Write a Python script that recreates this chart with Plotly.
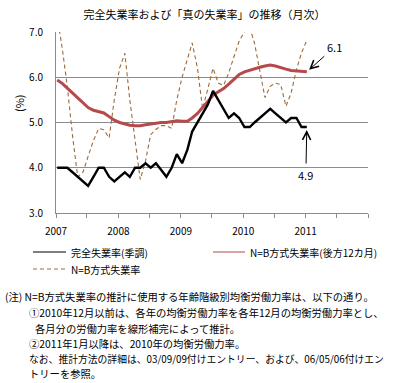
import pandas as pd
import plotly.graph_objects as go

# ---- data (monthly, Jan 2007 .. Jan 2011) ----
start_month = "2007-01-01"
n_months = 49
months = pd.date_range(start_month, periods=n_months, freq="MS") + pd.Timedelta(days=7)

unemp_sa = [4.0, 4.0, 4.0, 3.9, 3.8, 3.7, 3.6, 3.8, 4.0, 4.0, 3.8, 3.7,
            3.8, 3.9, 3.8, 4.0, 4.0, 4.1, 4.0, 4.1, 3.95, 3.8, 4.0, 4.3,
            4.1, 4.4, 4.8, 5.0, 5.2, 5.4, 5.7, 5.5, 5.3, 5.1, 5.2, 5.1,
            4.9, 4.9, 5.0, 5.1, 5.2, 5.3, 5.2, 5.1, 5.0, 5.1, 5.1, 4.9,
            4.9]

nb_12m = [5.94, 5.86, 5.76, 5.65, 5.53, 5.42, 5.33, 5.27, 5.24, 5.21, 5.13, 5.05,
          5.00, 4.96, 4.94, 4.93, 4.93, 4.95, 4.97, 4.99, 5.00, 5.00, 5.02, 5.04,
          5.03, 5.03, 5.10, 5.20, 5.33, 5.47, 5.60, 5.68, 5.75, 5.85, 5.95, 6.06,
          6.12, 6.16, 6.19, 6.22, 6.25, 6.27, 6.25, 6.21, 6.18, 6.15, 6.14, 6.13,
          6.12]

nb_raw = [7.35, 6.6, 5.8, 4.7, 3.8, 3.9, 4.25, 4.6, 4.87, 4.84, 4.66, 5.5,
          6.2, 6.53, 5.5, 4.6, 3.74, 4.15, 4.73, 4.85, 4.93, 4.93, 4.87, 5.5,
          6.0, 6.4, 6.76, 6.2, 5.3, 5.75, 6.2, 5.87, 5.82, 6.1, 6.45, 6.8,
          7.0, 7.1, 6.75, 6.15, 5.55, 5.8, 5.87, 5.84, 5.36, 5.65, 6.17, 6.54,
          6.82]

tick_dates = ["2007-01-01", "2007-07-01", "2008-01-01", "2008-07-01", "2009-01-01",
              "2009-07-01", "2010-01-01", "2010-07-01", "2011-01-01", "2011-07-01",
              "2012-01-01"]
tick_text = ["2007", "", "2008", "", "2009", "", "2010", "", "2011", "", ""]
y_ticks = [3.0, 4.0, 5.0, 6.0, 7.0]

names = ["完全失業率(季調)", "N=B方式失業率(後方12カ月)", "N=B方式失業率"]
title = "完全失業率および「真の失業率」の推移（月次）"
notes = [
    "(注) N=B方式失業率の推計に使用する年齢階級別均衡労働力率は、以下の通り。",
    "①2010年12月以前は、各年の均衡労働力率を各年12月の均衡労働力率とし、",
    "各月分の労働力率を線形補完によって推計。",
    "②2011年1月以降は、2010年の均衡労働力率。",
    "なお、推計方法の詳細は、03/09/09付けエントリー、および、06/05/06付けエン",
    "トリーを参照。",
]

# ---- styling ----
FONT = "Noto Sans CJK JP"
C_BLACK = "#000000"
C_RED = "#b5494c"
C_DASH = "#9c6a3a"
C_GRID = "#8c8c8c"

W, H = 401, 383
L, R, T, B = 56, 33, 32, 170
PW, PH = W - L - R, H - T - B


def px2x(px):
    return (px - L) / PW


def py2y(py):
    return (H - B - py) / PH


fig = go.Figure()
fig.add_trace(go.Scatter(x=months, y=nb_raw, mode="lines", name=names[2],
                         line=dict(color=C_DASH, width=1.1, dash="4px,3px"),
                         showlegend=False))
fig.add_trace(go.Scatter(x=months, y=nb_12m, mode="lines", name=names[1],
                         line=dict(color=C_RED, width=3.0), showlegend=False))
fig.add_trace(go.Scatter(x=months, y=unemp_sa, mode="lines", name=names[0],
                         line=dict(color=C_BLACK, width=2.4), showlegend=False))

annotations = []
shapes = []

# legend (drawn manually)
legend_rows = [
    (33, 66, 252, names[0], C_BLACK, 1, "solid"),
    (213, 245, 252, names[1], C_RED, 1, "solid"),
    (33, 66, 269, names[2], C_DASH, 1, "4px,3px"),
]
for x0, x1, yy, txt, col, w, dsh in legend_rows:
    shapes.append(dict(type="line", xref="paper", yref="paper",
                       x0=px2x(x0), x1=px2x(x1), y0=py2y(yy), y1=py2y(yy),
                       line=dict(color=col, width=w, dash=dsh)))
    annotations.append(dict(xref="paper", yref="paper", x=px2x(x1 + 3), y=py2y(yy),
                            xanchor="left", yanchor="middle", showarrow=False,
                            text=txt, font=dict(size=10, color="#000000", family=FONT)))

# value callouts
annotations.append(dict(x=months[-1], y=nb_12m[-1], xref="x", yref="y",
                        text="6.1", showarrow=True, ax=28, ay=-25,
                        arrowhead=5, arrowsize=1.6, arrowwidth=1, arrowcolor="#000",
                        standoff=3, startstandoff=2,
                        font=dict(size=11, color="#000", family=FONT)))
annotations.append(dict(x=months[-1], y=unemp_sa[-1], xref="x", yref="y",
                        text="4.9", showarrow=True, ax=-1, ay=48,
                        arrowhead=5, arrowsize=1.6, arrowwidth=1, arrowcolor="#000",
                        standoff=3, startstandoff=2,
                        font=dict(size=11, color="#000", family=FONT)))

# y axis label
annotations.append(dict(xref="paper", yref="paper", x=px2x(19), y=py2y(103),
                        xanchor="center", yanchor="middle",
                        text="(%)", showarrow=False, textangle=-90,
                        font=dict(size=11, color="#000", family=FONT)))

# notes
note_pos = [(3, 296), (27, 312), (33, 328), (27, 343), (27, 359), (27, 374)]
note_size = [10.3, 10.3, 10.3, 10.3, 9.8, 10.3]
for (nx, ny), fs, txt in zip(note_pos, note_size, notes):
    annotations.append(dict(xref="paper", yref="paper", x=px2x(nx), y=py2y(ny),
                            xanchor="left", yanchor="middle", showarrow=False,
                            text=txt, font=dict(size=fs, color="#000", family=FONT)))

fig.update_layout(
    width=W, height=H,
    margin=dict(l=L, r=R, t=T, b=B, pad=0),
    paper_bgcolor="white", plot_bgcolor="white",
    font=dict(family=FONT, size=10, color="#000"),
    title=dict(text=title, x=0.51, xanchor="center", y=1 - 15 / H, yanchor="middle",
               font=dict(size=11, family=FONT, color="#000")),
    showlegend=False,
    annotations=annotations,
    shapes=shapes,
)
fig.update_xaxes(type="date", range=["2007-01-01", "2012-01-01"],
                 tickvals=tick_dates, ticktext=tick_text,
                 ticks="outside", ticklen=4, tickcolor=C_GRID, tickwidth=1,
                 showline=True, linecolor=C_GRID, linewidth=1,
                 showgrid=False, zeroline=False,
                 tickfont=dict(size=10, family=FONT), ticklabelstandoff=5)
fig.update_yaxes(range=[3, 7], tickvals=y_ticks, tickformat=".1f",
                 showgrid=True, gridcolor=C_GRID, gridwidth=1,
                 showline=True, linecolor=C_GRID, linewidth=1,
                 zeroline=False, ticks="",
                 tickfont=dict(size=10, family=FONT), ticklabelstandoff=10)

fig.write_html("out.html", config={"displayModeBar": False},
               post_script="document.body.style.margin='0';document.body.style.padding='0';")
